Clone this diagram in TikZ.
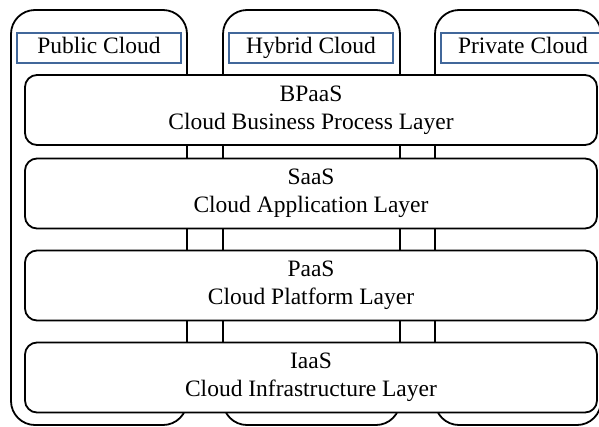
\documentclass[tikz,border=0pt]{standalone}
\usepackage{fontspec}
\setmainfont{Liberation Serif}
\definecolor{tagblue}{HTML}{41679A}
\begin{document}
\begin{tikzpicture}[x=1pt,y=-1pt,
  column/.style={draw, line width=1.8pt, rounded corners=24pt, inner sep=0pt},
  layer/.style={draw, fill=white, line width=1.8pt, rounded corners=12pt,
    minimum width=572pt, minimum height=70pt, align=center,
    font=\fontsize{23.5}{28}\selectfont},
  tag/.style={draw=tagblue, fill=white, line width=1.4pt, inner sep=0pt,
    minimum width=164pt, minimum height=30pt, text height=16pt, text depth=5pt,
    font=\fontsize{23.5}{26}\selectfont}]
\useasboundingbox (0,0) rectangle (599,426);
\clip (0,0) rectangle (599,426);
% deployment columns
\node[column, minimum width=176pt, minimum height=415pt] (pub) at (99,217.5) {};
\node[column, minimum width=177pt, minimum height=415pt] (hyb) at (311.5,217.5) {};
\node[column, minimum width=166pt, minimum height=415pt] (pri) at (518,217.5) {};
% column titles
\node[tag] (tpub) at (99,48) {Public Cloud};
\node[tag] (thyb) at (311,48) {Hybrid Cloud};
\node[tag] (tpri) at (523,48) {Private Cloud};
% service layers
\node[layer] (bpaas) at (311,110) {BPaaS\\Cloud Business Process Layer};
\node[layer] (saas) at (311,193.5) {SaaS\\Cloud Application Layer};
\node[layer] (paas) at (311,285.5) {PaaS\\Cloud Platform Layer};
\node[layer] (iaas) at (311,377.5) {IaaS\\Cloud Infrastructure Layer};
\end{tikzpicture}
\end{document}
